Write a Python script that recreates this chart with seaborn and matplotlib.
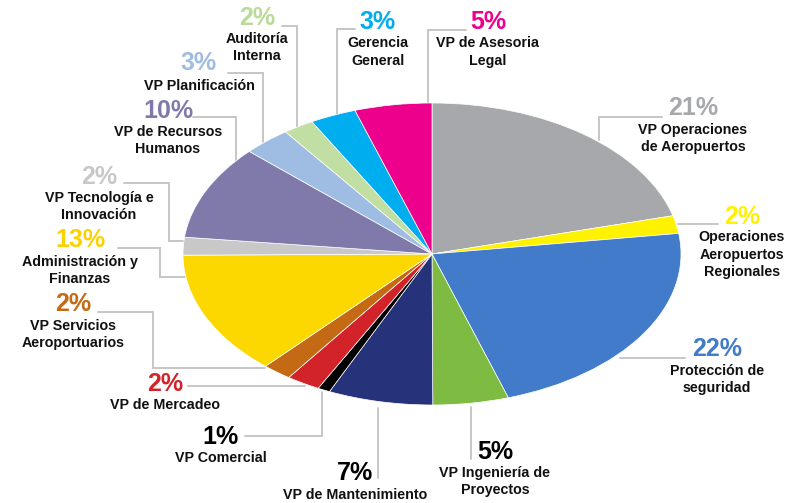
import matplotlib
matplotlib.use("Agg")
import matplotlib.pyplot as plt
import seaborn as sns

# ---- data (clockwise from 12 o'clock) ----
categories = [
    "VP Operaciones\nde Aeropuertos",
    "Operaciones\nAeropuertos\nRegionales",
    "Protección de\nseguridad",
    "VP Ingeniería de\nProyectos",
    "VP de Mantenimiento",
    "VP Comercial",
    "VP de Mercadeo",
    "VP Servicios\nAeroportuarios",
    "Administración y\nFinanzas",
    "VP Tecnología e\nInnovación",
    "VP de Recursos\nHumanos",
    "VP Planificación",
    "Auditoría\nInterna",
    "Gerencia\nGeneral",
    "VP de Asesoria\nLegal",
]
shares = [20.9, 1.9, 22.2, 4.9, 6.8, 0.8, 2.2, 1.9, 13.2, 1.9, 10.1, 3.1, 2.0, 3.0, 5.0]
pct_labels = ["21%", "2%", "22%", "5%", "7%", "1%", "2%", "2%", "13%", "2%", "10%", "3%", "2%", "3%", "5%"]

# ---- styles ----
slice_colors = ["#A7A8AB", "#FFF200", "#417BCA", "#7DBB42", "#26327A", "#000000",
                "#D2232A", "#C46A14", "#FDD700", "#C8C8C8", "#807AAB", "#9FBDE3",
                "#C2DFA3", "#00ADEE", "#EC008C"]
pct_colors = ["#A7A8AB", "#FFF200", "#417BCA", "#000000", "#000000", "#000000",
              "#D2232A", "#C46A14", "#FDD000", "#C8C8C8", "#807AAB", "#9FBDE3",
              "#B9DB98", "#00ADEE", "#EC008C"]

# ---- layout (pixel positions of the label blocks and leader lines) ----
pct_pos = [(693, 108), (742, 217), (717, 349), (495, 452), (355, 473), (221, 437),
           (165, 384), (73, 304), (80, 240), (99, 177), (168, 111), (199, 63),
           (257, 18), (378, 22), (488, 22)]
name_pos = [(693, 138.5), (742, 254.5), (717, 379.5), (495, 481.5), (355, 495), (221, 458),
            (165, 405), (73, 334.5), (80, 270.5), (99, 206.5), (168, 140.5), (199, 86),
            (257, 47.5), (378, 52), (488, 52)]
leaders = [
    [(599, 140), (599, 117), (662, 117)],
    [(678, 224), (718, 224)],
    [(620, 358), (685, 358)],
    [(471, 407), (471, 459)],
    [(378, 408), (378, 478)],
    [(322, 392), (322, 436), (245, 436)],
    [(305, 386), (188, 386)],
    [(265, 368), (153, 368), (153, 312), (98, 312)],
    [(185, 277), (160, 277), (160, 248), (118, 248)],
    [(185, 241), (169, 241), (169, 183), (124, 183)],
    [(236, 162), (236, 117), (193, 117)],
    [(263, 142), (263, 73), (228, 73)],
    [(297, 128), (297, 26), (282, 26)],
    [(337, 115), (337, 29), (355, 29)],
    [(428, 104), (428, 30), (466, 30)],
]

sns.set_theme(style="white")
plt.rcParams["font.family"] = ["Liberation Sans", "DejaVu Sans"]

W, H = 804, 503
fig = plt.figure(figsize=(W / 100, H / 100), dpi=100)
fig.patch.set_facecolor("white")

# overlay axes in pixel coordinates for labels / leader lines
ov = fig.add_axes([0, 0, 1, 1])
ov.set_xlim(0, W)
ov.set_ylim(H, 0)
ov.axis("off")

# elliptical pie: center (432,254) px, rx 249 px, ry 151 px
cx, cy, rx, ry = 432, 254, 249, 151
ax = fig.add_axes([(cx - rx) / W, (H - cy - ry) / H, 2 * rx / W, 2 * ry / H])
ax.pie(shares, colors=slice_colors, startangle=90, counterclock=False, radius=1,
       wedgeprops=dict(edgecolor="white", linewidth=0.5))
ax.set_xlim(-1, 1)
ax.set_ylim(-1, 1)
ax.set_aspect("auto")
ax.axis("off")

for path in leaders:
    xs = [p[0] for p in path]
    ys = [p[1] for p in path]
    ov.plot(xs, ys, color="#C6C6C6", lw=1.4, solid_joinstyle="miter")

for lab, col, (px, py) in zip(pct_labels, pct_colors, pct_pos):
    ov.text(px, py, lab, color=col, fontsize=18, fontweight="bold",
            ha="center", va="center")

for name, (nx, ny) in zip(categories, name_pos):
    ov.text(nx, ny, name, color="#111111", fontsize=10.3, fontweight="bold",
            ha="center", va="center", linespacing=1.3)

fig.savefig("out.png", dpi=100, facecolor="white")
